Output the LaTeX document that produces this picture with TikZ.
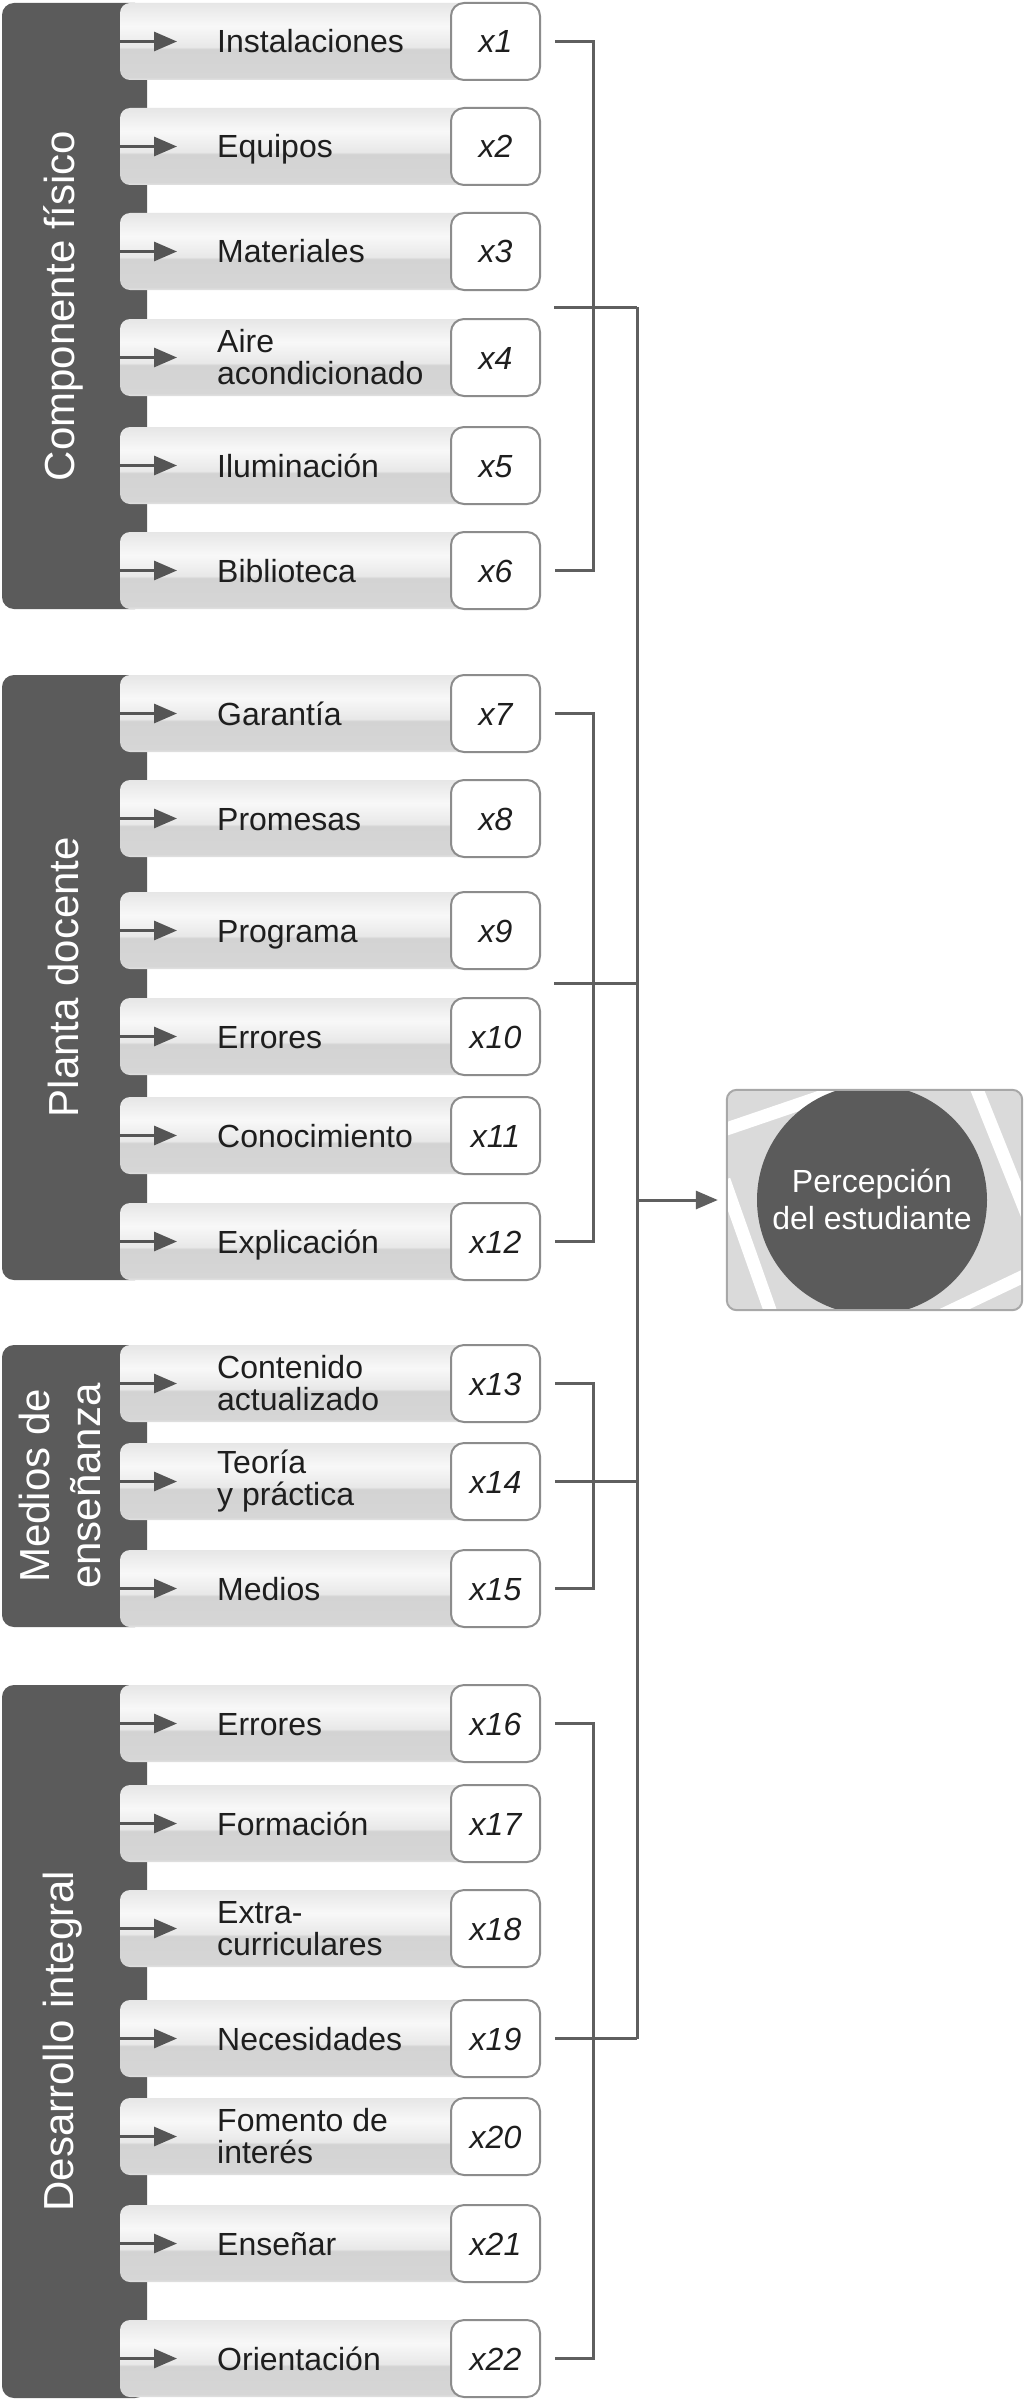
\documentclass[tikz,border=0pt]{standalone}
\usepackage{fontspec}
\setmainfont{Liberation Sans}
\usetikzlibrary{arrows.meta}
\definecolor{panel}{HTML}{5B5B5B}
\definecolor{linec}{HTML}{5F5F5F}
\definecolor{arrowc}{HTML}{555555}
\definecolor{boxline}{HTML}{8C8C8C}
\definecolor{txt}{HTML}{1E1E1E}
\definecolor{tgtfill}{HTML}{DADADA}
\definecolor{tgtline}{HTML}{A8A8A8}
\definecolor{bA}{HTML}{E2E2E2}
\definecolor{bB}{HTML}{D6D6D6}
\definecolor{bC}{HTML}{D3D3D3}
\definecolor{bD}{HTML}{E8E8E8}
\definecolor{bE}{HTML}{F8F8F8}
\definecolor{bF}{HTML}{E6E6E6}
\pgfdeclareverticalshading{barshade}{100bp}{color(0bp)=(bA); color(25bp)=(bA); color(27bp)=(bB); color(45bp)=(bC); color(46.5bp)=(bD); color(60bp)=(bE); color(75bp)=(bF); color(100bp)=(bF)}
\tikzset{
  lab/.style={anchor=west, inner sep=0pt, text=txt, font=\fontsize{32}{32}\selectfont, text height=23pt, text depth=0pt},
  labtwo/.style={anchor=west, inner sep=0pt, text=txt, font=\fontsize{32}{32}\selectfont, align=left},
  xbox/.style={draw=boxline, line width=2pt, fill=white, rounded corners=13pt, minimum width=89pt, minimum height=77pt, inner sep=0pt, text=txt, font=\fontsize{32}{32}\selectfont\itshape, text height=23pt, text depth=0pt},
  barrow/.style={draw=arrowc, line width=3pt, -{Triangle[length=23pt,width=19pt]}},
  conn/.style={draw=linec, line width=3pt},
  grp/.style={rotate=90, inner sep=0pt, text=white, align=center, font=\fontsize{42}{51}\selectfont},
  pnl/.style={fill=panel, rounded corners=12pt},
}
\newcommand{\brow}[5]{%
  \shade[shading=barshade, rounded corners=10pt] (120,#1) rectangle (470,#1+77);
  \coordinate (a#2) at (120,#1+38.5);
  \node[#3] (l#2) at (217,#1+38.5) {#4};
  \node[xbox] (#2) at (495.5,#1+38.5) {#5};
  \draw[barrow] (a#2) -- ([xshift=-40pt]l#2.west |- a#2);
}
\begin{document}
\begin{tikzpicture}[x=1pt,y=-1pt]
\useasboundingbox (0,0) rectangle (1024,2400);
\fill[white] (0,0) rectangle (1024,2400);
% panels
\fill[pnl] (2,3) rectangle (147,609);
\fill[pnl] (2,675) rectangle (147,1280);
\fill[pnl] (2,1345) rectangle (147,1627);
\fill[pnl] (2,1685) rectangle (147,2398);
% group 1
\brow{3}{x1}{lab}{Instalaciones}{x1}
\brow{108}{x2}{lab}{Equipos}{x2}
\brow{213}{x3}{lab}{Materiales}{x3}
\brow{319}{x4}{labtwo}{Aire\\acondicionado}{x4}
\brow{427}{x5}{lab}{Iluminación}{x5}
\brow{532}{x6}{lab}{Biblioteca}{x6}
% group 2
\brow{675}{x7}{lab}{Garantía}{x7}
\brow{780}{x8}{lab}{Promesas}{x8}
\brow{892}{x9}{lab}{Programa}{x9}
\brow{998}{x10}{lab}{Errores}{x10}
\brow{1097}{x11}{lab}{Conocimiento}{x11}
\brow{1203}{x12}{lab}{Explicación}{x12}
% group 3
\brow{1345}{x13}{labtwo}{Contenido\\actualizado}{x13}
\brow{1443}{x14}{labtwo}{Teoría\\y práctica}{x14}
\brow{1550}{x15}{lab}{Medios}{x15}
% group 4
\brow{1685}{x16}{lab}{Errores}{x16}
\brow{1785}{x17}{lab}{Formación}{x17}
\brow{1890}{x18}{labtwo}{Extra-\\curriculares}{x18}
\brow{2000}{x19}{lab}{Necesidades}{x19}
\brow{2098}{x20}{labtwo}{Fomento de\\interés}{x20}
\brow{2205}{x21}{lab}{Enseñar}{x21}
\brow{2320}{x22}{lab}{Orientación}{x22}
% group labels
\node[grp] (g1) at (63,306) {Componente físico};
\node[grp] (g2) at (63,977) {Planta docente};
\node[grp] (g3) at (60,1486) {Medios de\\enseñanza};
\node[grp] (g4) at (63,2041) {Desarrollo integral};
% brackets
\draw[conn] ([xshift=14pt]x1.east) -- ++(38,0) |- ([xshift=14pt]x6.east);
\draw[conn] ([xshift=14pt]x7.east) -- ++(38,0) |- ([xshift=14pt]x12.east);
\draw[conn] ([xshift=14pt]x13.east) -- ++(38,0) |- ([xshift=14pt]x15.east);
\draw[conn] ([xshift=14pt]x16.east) -- ++(38,0) |- ([xshift=14pt]x22.east);
% group connectors
\coordinate (s1) at (554,307);
\coordinate (j1) at (637,307);
\coordinate (s2) at (554,983);
\draw[conn] (s1) -- (j1);
\draw[conn] (s2) -- (s2 -| j1);
\draw[conn] ([xshift=14pt]x14.east) -- (x14 -| j1);
\draw[conn] ([xshift=14pt]x19.east) -- (x19 -| j1);
\draw[conn] (j1) -- (x19 -| j1);
% target
\node[fill=tgtfill, rounded corners=10pt, minimum width=295pt, minimum height=220pt, inner sep=0pt] (tgt) at (874.5,1200) {};
\begin{scope}
  \clip[rounded corners=10pt] (tgt.north west) rectangle (tgt.south east);
  \draw[white, line width=13pt] (700,1138) -- (870,1080);
  \draw[white, line width=13pt] (972,1077) -- (1030,1222);
  \draw[white, line width=13pt] (1045,1266) -- (940,1316);
  \draw[white, line width=13pt] (777,1330) -- (724,1180);
  \fill[panel] (872,1200) circle[radius=115pt];
\end{scope}
\draw[tgtline, line width=2pt, rounded corners=10pt] (tgt.north west) rectangle (tgt.south east);
\node[text=white, align=center, inner sep=0pt, font=\fontsize{32}{37}\selectfont] (ptxt) at (872,1199) {Percepción\\del estudiante};
\draw[conn, -{Triangle[length=22pt,width=18pt]}] (tgt -| j1) -- ([xshift=-9pt]tgt.west);
\end{tikzpicture}
\end{document}
